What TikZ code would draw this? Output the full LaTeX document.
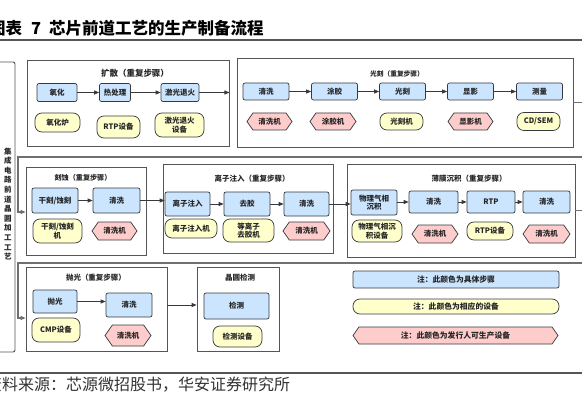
\documentclass[tikz,border=0pt]{standalone}
\usepackage{fontspec}
\setmainfont{Noto Sans CJK SC}
\usetikzlibrary{shapes.symbols,arrows.meta}
\definecolor{bluef}{HTML}{CCE5FF}
\definecolor{yelf}{HTML}{FFFFCC}
\definecolor{pinkf}{HTML}{FFCCCC}
\definecolor{strk}{HTML}{36393D}
\definecolor{grpc}{HTML}{555555}
\definecolor{retc}{HTML}{707070}
\begin{document}
\begin{tikzpicture}[x=1pt,y=-1pt,
 lbl/.style={font=\fontsize{7.5}{8.5}\selectfont\bfseries, text=black!85, align=center},
 sz/.style 2 args={minimum width=#1pt, minimum height=#2pt},
 stepbox/.style={lbl, draw=strk, fill=bluef, rounded corners=2pt, line width=0.7pt, inner sep=0pt},
 equip/.style={lbl, draw=strk, fill=yelf, rounded corners=7pt, line width=0.7pt, inner sep=0pt},
 mach/.style={lbl, draw=strk, fill=pinkf, signal, signal to=west and east, signal pointer angle=110, line width=0.7pt, inner sep=0pt},
 grp/.style={draw=grpc, fill=white, line width=0.8pt, inner sep=0pt},
 ttl/.style={font=\fontsize{7.5}{8}\selectfont\bfseries, text=black!85},
 arr/.style={draw=strk, line width=0.8pt, -{Triangle[length=5pt,width=4pt]}},
 ret/.style={draw=retc, line width=1.1pt, -{Triangle[length=5pt,width=4pt]}}
]
\useasboundingbox (0,0) rectangle (582,404);
\fill[white] (0,0) rectangle (582,404);

% title and source
\node[anchor=west, inner sep=0pt, font=\fontsize{16.5}{17}\selectfont\bfseries] (title) at (-11,28) {图表\hspace{9pt}7\hspace{8pt}芯片前道工艺的生产制备流程};
\draw[grpc, line width=1.3pt] (0,40) -- (582,40);
\draw[grpc, line width=1.3pt] (0,373) -- (582,373);
\node[anchor=west, inner sep=0pt, font=\fontsize{16}{17}\selectfont, text=black!80] (src) at (-14,385) {资料来源：芯源微招股书，华安证券研究所};

% left big box
\draw[grpc, line width=0.9pt, rounded corners=2pt] (-10,62) rectangle (15,352);
\node[font=\fontsize{7.5}{9.6}\selectfont\bfseries, text=black!85, align=center, inner sep=0pt] (vt) at (8,204) {集\\成\\电\\路\\前\\道\\晶\\圆\\加\\工\\工\\艺};

% group boxes used by return connectors
\node[grp, sz={120}{88}] (etch) at (86,211) {};
\node[grp, sz={141}{84}] (pol) at (96.5,309) {};
\node[grp, sz={336}{89}] (photo) at (405,102.5) {};
\node[grp, sz={228}{93}] (thin) at (461,210.5) {};
\draw[ret] (photo.east) -- (600,102.5) -- (600,157) -- (18,157) |- ([yshift=-1pt]etch.west);
\draw[ret] (thin.east) -- (600,210.5) -- (600,263) -- (18,263) |- ([yshift=-9pt]pol.west);

% ---- row 1: diffusion
\node[grp, sz={202}{86}] (diff) at (128,103) {};
\node[ttl, font=\fontsize{8.5}{9}\selectfont\bfseries] (diffT) at (135,73) {扩散（重复步骤）};
\node[stepbox, sz={40}{18}] (d1) at (57,92.5) {氧化};
\node[stepbox, sz={31}{18}] (d2) at (115,92.5) {热处理};
\node[stepbox, sz={38}{18}] (d3) at (180,92.5) {激光退火};
\node[equip, sz={45}{19}] (d1e) at (57.5,122.5) {氧化炉};
\node[equip, sz={43}{22}] (d2e) at (118.5,127) {RTP设备};
\node[equip, sz={49}{24}] (d3e) at (179.5,125) {激光退火\\设备};
\draw[arr] (d1) -- (d2);
\draw[arr] (d2) -- (d3);
\draw[arr] (d3.east) -- (d3.east -| diff.east);

% ---- row 1: photolithography
\node[ttl, font=\fontsize{6.7}{7}\selectfont\bfseries] (photoT) at (397,74) {光刻（重复步骤）};
\node[stepbox, sz={46}{17}] (p1) at (266,91.5) {清洗};
\node[stepbox, sz={46}{17}] (p2) at (334.5,91.5) {涂胶};
\node[stepbox, sz={46}{17}] (p3) at (402.5,91.5) {光刻};
\node[stepbox, sz={46}{17}] (p4) at (470.5,91.5) {显影};
\node[stepbox, sz={46}{17}] (p5) at (539.5,91.5) {测量};
\node[mach, sz={45}{17}] (p1e) at (269.5,121.5) {清洗机};
\node[mach, sz={46}{17}] (p2e) at (333,121.5) {涂胶机};
\node[equip, sz={43}{17}] (p3e) at (401.5,121.5) {光刻机};
\node[mach, sz={45}{17}] (p4e) at (470.5,121.5) {显影机};
\node[equip, sz={43}{18}] (p5e) at (538.5,121.5) {CD/SEM};
\draw[arr] (p1) -- (p2);
\draw[arr] (p2) -- (p3);
\draw[arr] (p3) -- (p4);
\draw[arr] (p4) -- (p5);

% ---- row 2: etch
\node[ttl, font=\fontsize{7.1}{7.5}\selectfont\bfseries] (etchT) at (83,178) {刻蚀（重复步骤）};
\node[stepbox, sz={46}{25}] (e1) at (55,200.5) {干刻/蚀刻};
\node[stepbox, sz={47}{25}] (e2) at (116.5,200.5) {清洗};
\node[equip, sz={49}{24}] (e1e) at (57.5,231) {干刻/蚀刻\\机};
\node[mach, sz={45}{18}] (e2e) at (114.5,231) {清洗机};
\draw[arr] (e1) -- (e2);

% ---- row 2: ion implantation
\node[grp, sz={170}{89}] (ion) at (248,208.5) {};
\node[ttl] (ionT) at (252,179) {离子注入（重复步骤）};
\node[stepbox, sz={45}{24}] (i1) at (187.5,204) {离子注入};
\node[stepbox, sz={46}{24}] (i2) at (247,204) {去胶};
\node[stepbox, sz={45}{24}] (i3) at (306.5,204) {清洗};
\node[equip, sz={52}{19}] (i1e) at (191,228.5) {离子注入机};
\node[equip, sz={51}{23}] (i2e) at (248.5,230.5) {等离子\\去胶机};
\node[mach, sz={47}{18}] (i3e) at (306.5,231) {清洗机};
\draw[arr] (e2.east) -- (e2.east -| i1.west);
\draw[arr] (i1) -- (i2);
\draw[arr] (i2) -- (i3);

% ---- row 2: thin film
\node[ttl] (thinT) at (469,179) {薄膜沉积（重复步骤）};
\node[stepbox, sz={46}{25}] (t1) at (374,202.5) {物理气相\\沉积};
\node[stepbox, sz={49}{22}] (t2) at (433.5,202) {清洗};
\node[stepbox, sz={48}{22}] (t3) at (491,202) {RTP};
\node[stepbox, sz={47}{22}] (t4) at (546.5,202) {清洗};
\node[equip, sz={50}{22}] (t1e) at (377,231) {物理气相沉\\积设备};
\node[mach, sz={46}{18}] (t2e) at (435,234) {清洗机};
\node[equip, sz={46}{18}] (t3e) at (490,231) {RTP设备};
\node[mach, sz={47}{18}] (t4e) at (546.5,234) {清洗机};
\draw[arr] (i3.east) -- (i3.east -| t1.west);
\draw[arr] (t1.east |- t2.west) -- (t2.west);
\draw[arr] (t2) -- (t3);
\draw[arr] (t3) -- (t4);

% ---- row 3: polishing
\node[ttl] (polT) at (96,278) {抛光（重复步骤）};
\node[stepbox, sz={44}{23}] (c1) at (55,301.5) {抛光};
\node[stepbox, sz={46}{24}] (c2) at (129,305) {清洗};
\node[equip, sz={48}{24}] (c1e) at (56,330) {CMP设备};
\node[mach, sz={46}{21}] (c2e) at (128,335.5) {清洗机};
\draw[arr] (c1.east) -- (c1.east -| c2.west);

% ---- row 3: wafer inspection
\node[grp, sz={82}{84}] (wafer) at (238,309) {};
\node[ttl] (waferT) at (240,278) {晶圆检测};
\node[stepbox, sz={65}{26}] (w1) at (236.5,306) {检测};
\node[equip, sz={49}{21}] (w1e) at (237.5,336.5) {检测设备};
\draw[arr] ([yshift=4pt]pol.east) -- ([yshift=4pt]pol.east -| wafer.west);

% ---- legend
\node[stepbox, sz={206}{17}, font=\fontsize{7.8}{8.5}\selectfont\bfseries] (lg1) at (456,279.5) {注：此颜色为具体步骤};
\node[equip, sz={206}{15}, font=\fontsize{7.8}{8.5}\selectfont\bfseries] (lg2) at (456,306.5) {注：此颜色为相应的设备};
\node[mach, sz={205}{17}, font=\fontsize{7.8}{8.5}\selectfont\bfseries] (lg3) at (455.5,335.5) {注：此颜色为发行人可生产设备};
\end{tikzpicture}
\end{document}
